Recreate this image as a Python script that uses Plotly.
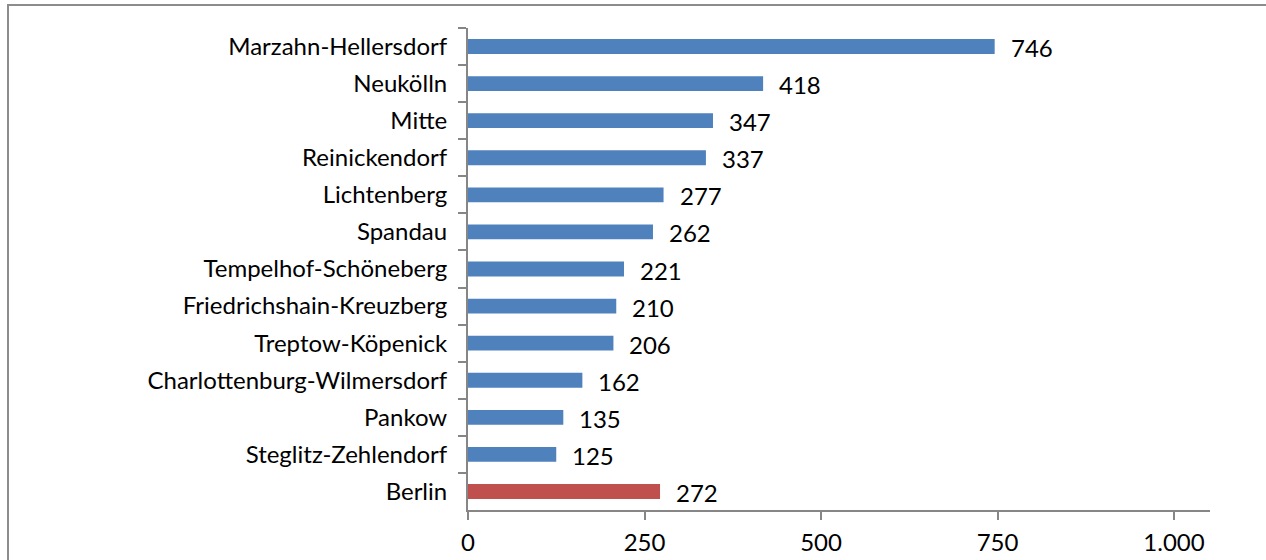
import plotly.graph_objects as go

districts = ["Marzahn-Hellersdorf", "Neukölln", "Mitte", "Reinickendorf", "Lichtenberg",
             "Spandau", "Tempelhof-Schöneberg", "Friedrichshain-Kreuzberg", "Treptow-Köpenick",
             "Charlottenburg-Wilmersdorf", "Pankow", "Steglitz-Zehlendorf", "Berlin"]
values = [746, 418, 347, 337, 277, 262, 221, 210, 206, 162, 135, 125, 272]
bar_colors = ["#4F81BD"] * 12 + ["#C0504D"]
tick_vals = [0, 250, 500, 750, 1000]
tick_text = ["0", "250", "500", "750", "1.000"]

FONT = "Lato, Open Sans, sans-serif"
FS = 24

fig = go.Figure(go.Bar(
    x=values, y=districts, orientation="h",
    marker=dict(color=bar_colors, line=dict(width=0)),
))

for d, v in zip(districts, values):
    fig.add_annotation(x=v, y=d, text=str(v), showarrow=False, xanchor="left",
                       xshift=14, yshift=-1, font=dict(family=FONT, size=FS, color="#000"))

W, H = 1266, 560
l, r, t, b = 468, 56, 28, 50
pw, ph = W - l - r, H - t - b

fig.add_shape(type="rect", xref="paper", yref="paper",
              x0=(8 - l) / pw, x1=1.3, y0=-0.3, y1=1 + (t - 5) / ph,
              line=dict(color="#8C8C8C", width=2), fillcolor="rgba(0,0,0,0)", layer="below")

fig.update_layout(
    width=W, height=H,
    margin=dict(l=l, r=r, t=t, b=b, autoexpand=False),
    paper_bgcolor="white", plot_bgcolor="white",
    bargap=0.6, showlegend=False,
    font=dict(family=FONT, size=FS, color="#000"),
    xaxis=dict(range=[0, 1051], tickvals=tick_vals, ticktext=tick_text, automargin=False,
               showgrid=False, zeroline=False, showline=True, linecolor="#868686", linewidth=2,
               ticks="outside", ticklen=8, tickcolor="#868686", tickwidth=2,
               ticklabelstandoff=2,
               tickfont=dict(family=FONT, size=FS, color="#000")),
    yaxis=dict(autorange="reversed", showgrid=False, zeroline=False, showline=True,
               automargin=False,
               linecolor="#868686", linewidth=2, ticks="outside", ticklen=8,
               tickcolor="#868686", tickwidth=2, tickson="boundaries",
               ticklabelstandoff=14,
               tickfont=dict(family=FONT, size=FS, color="#000")),
)

fig.write_html("out.html")
